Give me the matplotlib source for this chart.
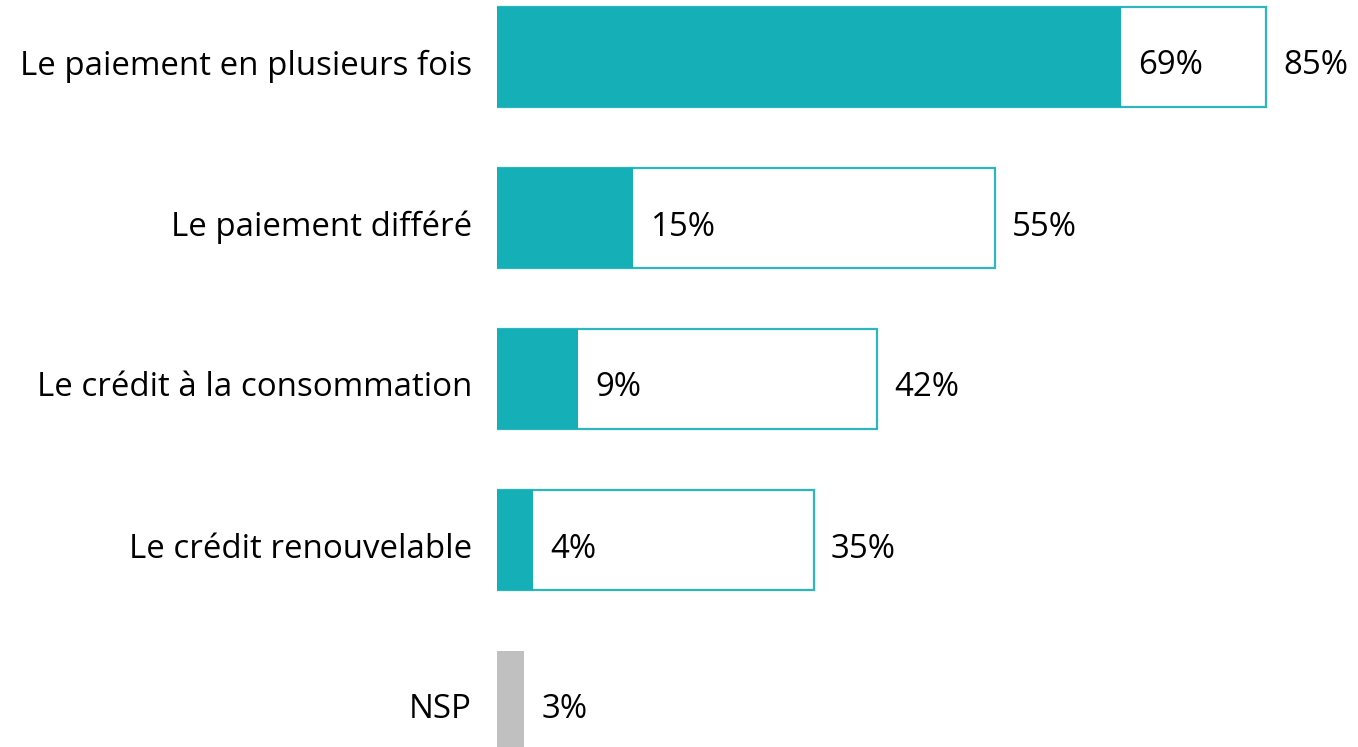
import matplotlib.pyplot as plt
from matplotlib import transforms

plt.rcParams['font.family'] = ['Open Sans', 'DejaVu Sans']

categories = ['Le paiement en plusieurs fois', 'Le paiement différé',
              'Le crédit à la consommation', 'Le crédit renouvelable', 'NSP']
first_choice = [69, 15, 9, 4, 3]      # filled part
total = [85, 55, 42, 35, None]        # outlined part

teal = '#14AFB7'
grey = '#C0C0C0'

fig = plt.figure(figsize=(13.58, 7.47), dpi=100)
ax = fig.add_axes([497 / 1358, 0, 1 - 497 / 1358, 1])

px = 9.047  # pixels per percent
ax.set_xlim(0, (1358 - 497) / px)
ax.set_ylim((747 - 57) / 161, -57 / 161)
h = 100 / 161
fs = 23.8

off = transforms.offset_copy(ax.transData, fig=fig, x=17, y=-9, units='dots')
off_lab = transforms.offset_copy(ax.transData, fig=fig, x=-25, y=-9, units='dots')

for i, cat in enumerate(categories):
    if total[i] is not None:
        ax.barh(i, total[i], height=h, color='white', edgecolor='#2DB6BE',
                linewidth=1.6, zorder=1)
        ax.barh(i, first_choice[i], height=h, color=teal, linewidth=0, zorder=2)
        ax.text(first_choice[i], i, f'{first_choice[i]}%', transform=off,
                va='center', ha='left', fontsize=fs)
        ax.text(total[i], i, f'{total[i]}%', transform=off,
                va='center', ha='left', fontsize=fs)
    else:
        ax.barh(i, first_choice[i], height=h, color=grey, linewidth=0, zorder=2)
        ax.text(first_choice[i], i, f'{first_choice[i]}%', transform=off,
                va='center', ha='left', fontsize=fs)
    ax.text(0, i, cat, transform=off_lab, va='center', ha='right',
            fontsize=fs, clip_on=False)

ax.axis('off')
fig.savefig('out.png', dpi=100)
